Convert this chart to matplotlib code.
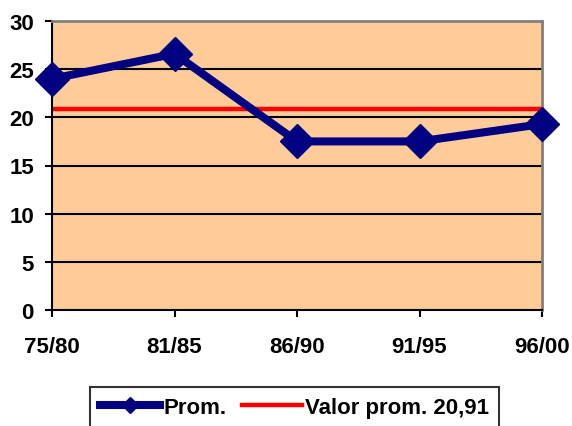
import matplotlib
matplotlib.use("Agg")
import matplotlib.pyplot as plt
from matplotlib.lines import Line2D

categories = ["75/80", "81/85", "86/90", "91/95", "96/00"]
prom = [24.0, 26.6, 17.5, 17.5, 19.3]
avg_value = 20.91
y_ticks = [0, 5, 10, 15, 20, 25, 30]

plt.rcParams['font.family'] = ['Liberation Sans', 'DejaVu Sans']
plt.rcParams['font.weight'] = 'bold'

fig = plt.figure(figsize=(5.72, 4.27), dpi=100)
ax = fig.add_axes([52/572, 1 - 311/427, 490/572, 289/427])
ax.set_facecolor('#FFCC99')

x = list(range(len(categories)))
for yv in y_ticks[1:-1]:
    ax.axhline(yv, color='black', lw=1.5, zorder=1)
ax.axhline(avg_value, color='#FF0000', lw=3.2, zorder=2)
ax.plot(x, prom, color='#000080', lw=5.8, marker='D', markersize=17, zorder=3, clip_on=False)

ax.set_xlim(0, len(categories) - 1)
ax.set_ylim(0, 30)
ax.set_xticks(x)
ax.set_xticklabels(categories)
ax.set_yticks(y_ticks)
ax.tick_params(axis='both', direction='out', length=5, width=1.5, labelsize=16)
ax.tick_params(axis='y', pad=8)
ax.tick_params(axis='x', pad=14)
for s in ['left', 'bottom']:
    ax.spines[s].set_color('black')
    ax.spines[s].set_linewidth(1.5)
for s in ['top', 'right']:
    ax.spines[s].set_color('#808080')
    ax.spines[s].set_linewidth(2)
for lbl in ax.get_xticklabels() + ax.get_yticklabels():
    lbl.set_fontweight('bold')

handles = [Line2D([0], [0], color='#000080', lw=5.8, marker='D', markersize=8),
           Line2D([0], [0], color='#FF0000', lw=3.2)]
leg = fig.legend(handles, ['Prom.', 'Valor prom. 20,91'], loc='upper left',
                 bbox_to_anchor=(90/572, 1 - 388/427), ncol=2, frameon=True,
                 fancybox=False, edgecolor='black', borderaxespad=0,
                 prop={'weight': 'bold', 'size': 16}, handlelength=2.7,
                 handletextpad=0.15, columnspacing=0.7, borderpad=0.45)
leg.get_frame().set_linewidth(1.5)

fig.savefig('out.png', dpi=100)
